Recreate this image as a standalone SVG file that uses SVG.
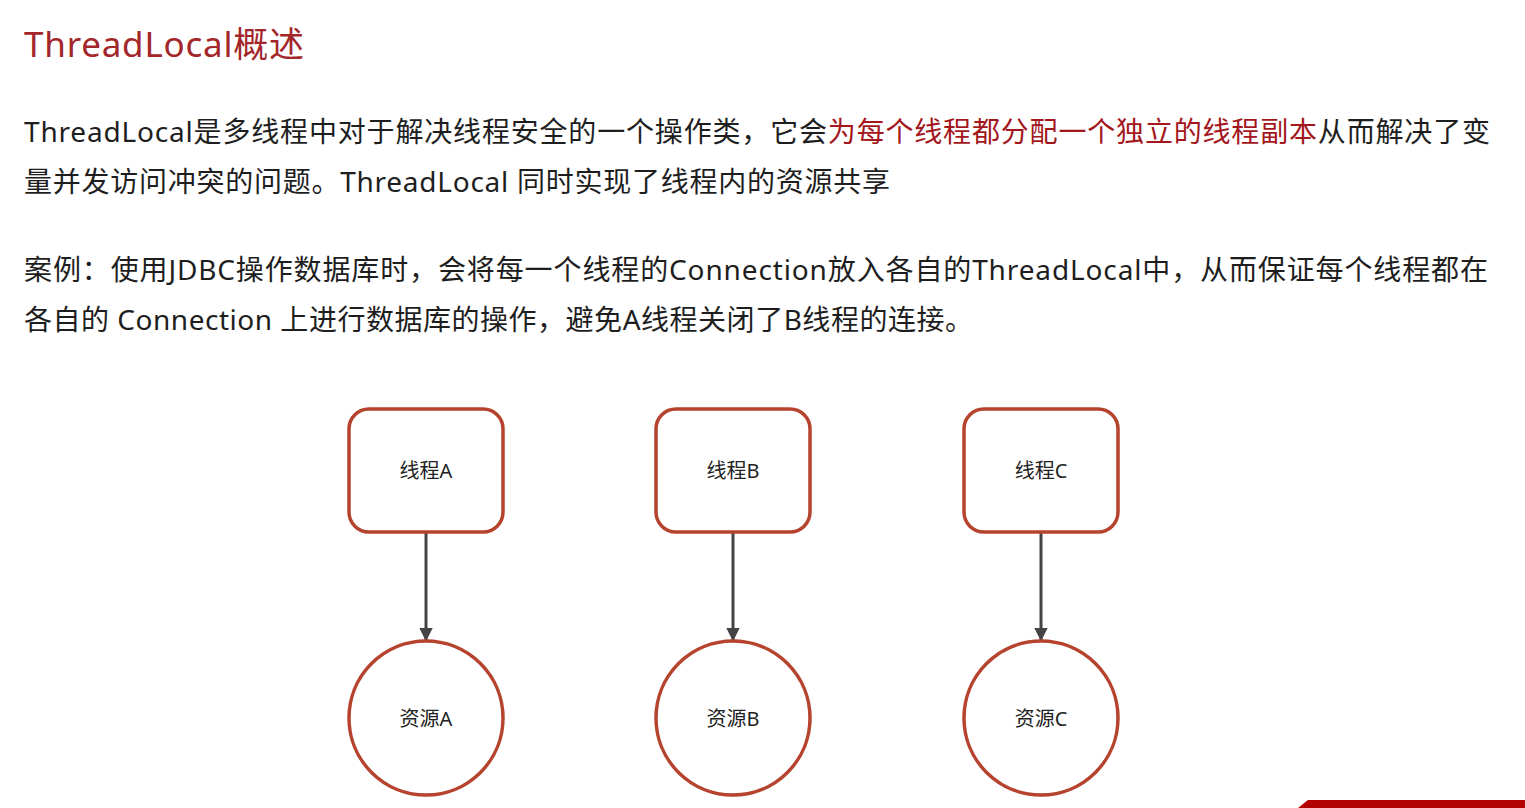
<svg xmlns="http://www.w3.org/2000/svg" width="1525" height="808" viewBox="0 0 1525 808">
<style>
.body{font-family:"Noto Sans","Noto Sans CJK SC",sans-serif;font-size:28px;fill:#1e1e1e;}
.title{font-family:"Noto Sans","Noto Sans CJK SC",sans-serif;font-size:35px;fill:#a3262a;}
.red{fill:#a3161c;}
.node{fill:#fff;stroke:#b5432e;stroke-width:3.5;}
.lbl{font-family:"Noto Sans","Noto Sans CJK SC",sans-serif;font-size:20px;fill:#222;text-anchor:middle;dominant-baseline:central;}
.conn{stroke:#444;stroke-width:3;fill:none;marker-end:url(#arr);}
</style>
<defs>
<marker id="arr" viewBox="0 0 10 10" refX="9" refY="5" markerWidth="4.5" markerHeight="4.5" orient="auto" markerUnits="strokeWidth">
<path d="M0,0 L10,5 L0,10 z" fill="#444"/>
</marker>
</defs>
<rect width="1525" height="808" fill="#fff"/>
<text class="title" x="24" y="57" textLength="280">ThreadLocal概述</text>
<text class="body" x="24" y="142" textLength="1466">ThreadLocal是多线程中对于解决线程安全的一个操作类，它会<tspan class="red">为每个线程都分配一个独立的线程副本</tspan>从而解决了变</text>
<text class="body" x="24" y="192" textLength="866">量并发访问冲突的问题。ThreadLocal 同时实现了线程内的资源共享</text>
<text class="body" x="24" y="280" textLength="1464">案例：使用JDBC操作数据库时，会将每一个线程的Connection放入各自的ThreadLocal中，从而保证每个线程都在</text>
<text class="body" x="24" y="330" textLength="949">各自的 Connection 上进行数据库的操作，避免A线程关闭了B线程的连接。</text>
<g id="connectors">
<line class="conn" x1="426" y1="533" x2="426" y2="640"/>
<line class="conn" x1="733" y1="533" x2="733" y2="640"/>
<line class="conn" x1="1041" y1="533" x2="1041" y2="640"/>
</g>
<g id="threadA"><rect class="node" x="349" y="409" width="154" height="123" rx="20"/><text class="lbl" x="426" y="470">线程A</text></g>
<g id="threadB"><rect class="node" x="656" y="409" width="154" height="123" rx="20"/><text class="lbl" x="733" y="470">线程B</text></g>
<g id="threadC"><rect class="node" x="964" y="409" width="154" height="123" rx="20"/><text class="lbl" x="1041" y="470">线程C</text></g>
<g id="resA"><circle class="node" cx="426" cy="718" r="77"/><text class="lbl" x="426" y="718">资源A</text></g>
<g id="resB"><circle class="node" cx="733" cy="718" r="77"/><text class="lbl" x="733" y="718">资源B</text></g>
<g id="resC"><circle class="node" cx="1041" cy="718" r="77"/><text class="lbl" x="1041" y="718">资源C</text></g>
<polygon points="1308,800 1525,800 1525,808 1298,808" fill="#b30000"/>
</svg>
